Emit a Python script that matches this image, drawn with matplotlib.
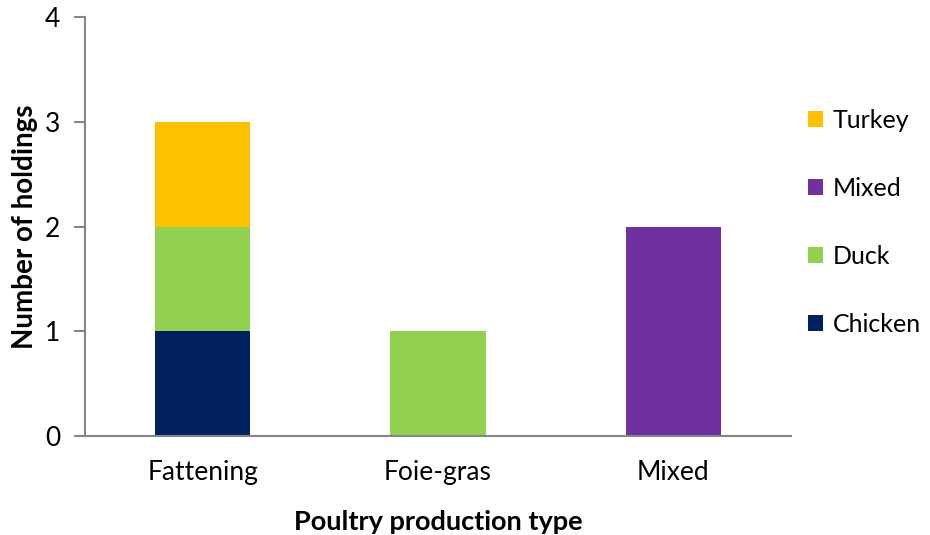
import numpy as np
import matplotlib
matplotlib.use("Agg")
from matplotlib import pyplot as plt

plt.rcParams['font.family'] = ['Lato', 'DejaVu Sans']

categories = ["Fattening", "Foie-gras", "Mixed"]
series_names = ["Chicken", "Duck", "Mixed", "Turkey"]
chicken = [1, 0, 0]
duck = [1, 1, 0]
mixed = [0, 0, 2]
turkey = [1, 0, 0]
colors = ["#002060", "#92D050", "#7030A0", "#FFC000"]

fig = plt.figure(figsize=(9.3, 5.35), dpi=100)
ax = fig.add_axes([0.0914, 0.185, 0.759, 0.783])

x = np.arange(len(categories))
bottom = np.zeros(len(categories))
handles = []
for name, vals, col in zip(series_names, [chicken, duck, mixed, turkey], colors):
    b = ax.bar(x, vals, 0.405, bottom=bottom, color=col, label=name)
    handles.append(b)
    bottom += np.array(vals)

ax.set_xlim(-0.5, 2.5)
ax.set_ylim(0, 4)
ax.set_yticks([0, 1, 2, 3, 4])
ax.set_xticks(x)
ax.set_xticklabels(categories)

for s in ["top", "right"]:
    ax.spines[s].set_visible(False)
for s in ["left", "bottom"]:
    ax.spines[s].set_color("#868686")
    ax.spines[s].set_linewidth(1.5)
ax.tick_params(axis="y", length=8, width=1.5, color="#868686", labelsize=19, pad=10)
ax.tick_params(axis="x", length=0, labelsize=19, pad=17)

ax.set_ylabel("Number of holdings", fontsize=20, fontweight="bold", labelpad=5)
ax.set_xlabel("Poultry production type", fontsize=19.5, fontweight="bold", labelpad=18)

leg = ax.legend(handles[::-1], series_names[::-1], loc="center left",
                bbox_to_anchor=(0.992, 0.51), frameon=False, fontsize=18,
                handlelength=0.6, handleheight=0.6, handletextpad=0.4,
                labelspacing=1.8)

fig.savefig("out.png", dpi=100)
